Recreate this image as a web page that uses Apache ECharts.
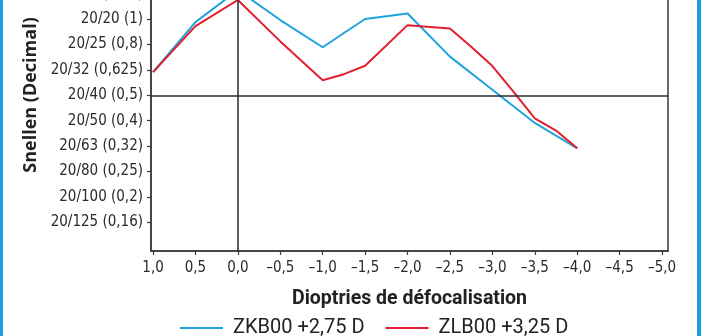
<!DOCTYPE html>
<html>
<head>
<meta charset="utf-8">
<script src="https://cdn.jsdelivr.net/npm/echarts@6/dist/echarts.min.js"></script>
<style>
html,body{margin:0;padding:0;background:#fff;}
#c{width:702px;height:336px;}
</style>
</head>
<body>
<div id="c"></div>
<script>
// Dioptres of defocus (x) and visual acuity expressed as logMAR (y; 0 = 20/20)
const defocusBlue = [1.0, 0.5, 0.0, -0.5, -1.0, -1.25, -1.5, -2.0, -2.5, -3.0, -3.5, -3.75, -4.0];
const acuityBlue  = [0.209, 0.012, -0.114, 0.004, 0.111, 0.055, 0.0, -0.022, 0.148, 0.278, 0.409, 0.459, 0.509];
const defocusRed  = [1.0, 0.5, 0.0, -0.5, -1.0, -1.25, -1.5, -2.0, -2.5, -2.75, -3.0, -3.25, -3.5, -3.75, -4.0];
const acuityRed   = [0.209, 0.028, -0.075, 0.088, 0.241, 0.217, 0.184, 0.024, 0.037, 0.109, 0.185, 0.287, 0.391, 0.439, 0.509];
const seriesNames = ['ZKB00 +2,75 D', 'ZLB00 +3,25 D'];
const yTickValues = [-0.1, 0, 0.1, 0.2, 0.3, 0.4, 0.5, 0.6, 0.7, 0.8];
const yTickLabels = ['20/16 (1,25)', '20/20 (1)', '20/25 (0,8)', '20/32 (0,625)', '20/40 (0,5)', '20/50 (0,4)', '20/63 (0,32)', '20/80 (0,25)', '20/100 (0,2)', '20/125 (0,16)'];
const xTickValues = [1.0, 0.5, 0.0, -0.5, -1.0, -1.5, -2.0, -2.5, -3.0, -3.5, -4.0, -4.5, -5.0];
const refLineY = 0.3;   // 20/40 (0,5)
const refLineX = 0;

const condFont = '"Liberation Sans Narrow", "DejaVu Sans Condensed", "Roboto Condensed", "Roboto", sans-serif';
const chart = echarts.init(document.getElementById('c'), null, {renderer: 'canvas'});

function fmtX(v) {
  const s = Math.abs(v).toFixed(1).replace('.', ',');
  return v < -1e-9 ? '\u2013' + s : s;
}
function fmtY(v) {
  for (let i = 0; i < yTickValues.length; i++) {
    if (Math.abs(yTickValues[i] - v) < 1e-6) return yTickLabels[i];
  }
  return '';
}

chart.setOption({
  animation: false,
  backgroundColor: '#fff',
  graphic: [
    {type: 'rect', shape: {x: 0, y: 0, width: 3, height: 336}, style: {fill: '#1b9fe0'}, silent: true},
    {type: 'rect', shape: {x: 697, y: 0, width: 4, height: 336}, style: {fill: '#1b9fe0'}, silent: true}
  ],
  grid: {left: 151, right: 34, top: -61, bottom: 85, show: true, borderColor: '#3a3a3a', borderWidth: 1.5,
         backgroundColor: 'transparent', containLabel: false, outerBoundsMode: 'none'},
  legend: {
    left: 180, top: 318, padding: 0,
    itemWidth: 43, itemHeight: 12, itemGap: 21,
    icon: 'path://M0,5 L43,5 L43,7 L0,7 Z',
    textStyle: {fontFamily: 'Roboto, sans-serif', fontSize: 20, lineHeight: 20, color: '#222', padding: [0, 0, 0, 5]},
    data: seriesNames
  },
  xAxis: {
    type: 'value', inverse: true, min: -5.07, max: 1.024,
    name: 'Dioptries de défocalisation', nameLocation: 'middle', nameGap: 38,
    nameTextStyle: {fontFamily: 'Roboto, sans-serif', fontWeight: 'bold', fontSize: 19.5, color: '#222'},
    axisLine: {show: true, onZero: false, lineStyle: {color: '#3a3a3a', width: 1.5}},
    axisTick: {show: true, length: 4, lineStyle: {color: '#3a3a3a', width: 1.2}, customValues: xTickValues},
    axisLabel: {customValues: xTickValues, formatter: fmtX, fontFamily: condFont, fontSize: 15, color: '#2a2a2a', margin: 10},
    splitLine: {show: false}
  },
  yAxis: {
    type: 'value', inverse: true, min: -0.315, max: 0.913,
    name: 'Snellen (Decimal)', nameLocation: 'middle', nameGap: 110, nameRotate: 90,
    nameTextStyle: {fontFamily: '"Open Sans", sans-serif', fontWeight: 'bold', fontSize: 18, color: '#222'},
    axisLine: {show: true, onZero: false, lineStyle: {color: '#3a3a3a', width: 1.5}},
    axisTick: {show: true, length: 4, lineStyle: {color: '#3a3a3a', width: 1.2}, customValues: yTickValues},
    axisLabel: {customValues: yTickValues, formatter: fmtY, fontFamily: condFont, fontSize: 15, color: '#2a2a2a', margin: 8},
    splitLine: {show: false}
  },
  series: [
    {
      name: seriesNames[0], type: 'line', symbol: 'none', z: 3,
      data: defocusBlue.map((d, i) => [d, acuityBlue[i]]),
      lineStyle: {color: '#1fa3dd', width: 2}, itemStyle: {color: '#1fa3dd'},
      markLine: {
        silent: true, symbol: 'none', label: {show: false},
        lineStyle: {color: '#2a2a2a', width: 1.5, type: 'solid'},
        data: [{xAxis: refLineX}, {yAxis: refLineY}]
      }
    },
    {
      name: seriesNames[1], type: 'line', symbol: 'none', z: 4,
      data: defocusRed.map((d, i) => [d, acuityRed[i]]),
      lineStyle: {color: '#e21f2f', width: 2}, itemStyle: {color: '#e21f2f'}
    }
  ]
});
</script>
</body>
</html>
